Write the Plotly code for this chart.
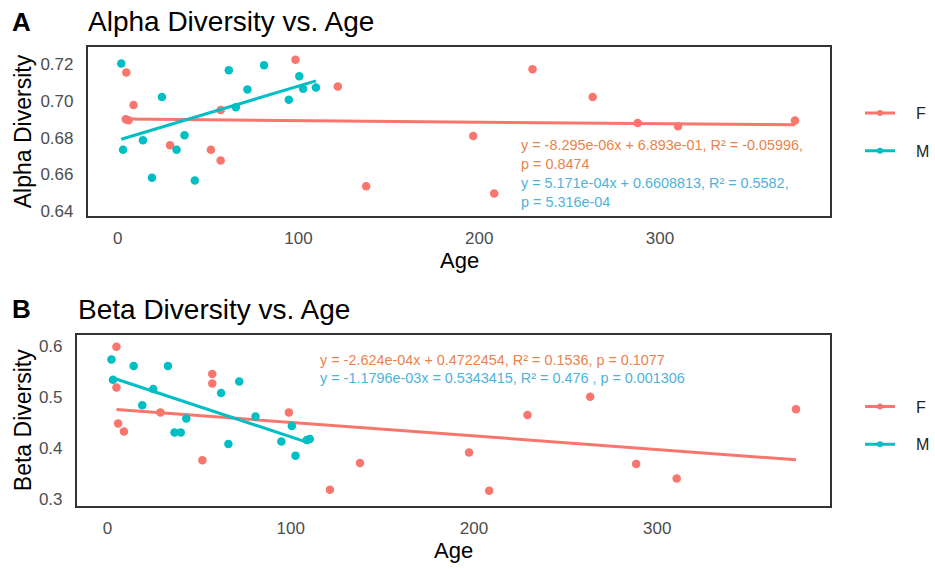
import numpy as np
import plotly.graph_objects as go

# ---------------- data ----------------
alpha_f_age = [4.5, 6.0, 4.8, 8.8, 29.0, 51.6, 57.0, 57.0, 98.4, 121.8, 137.5,
               196.7, 208.3, 229.5, 262.8, 287.7, 310.0, 374.7]
alpha_f_val = [0.6900, 0.6895, 0.7155, 0.6978, 0.6758, 0.6734, 0.6951, 0.6675,
               0.7225, 0.7079, 0.6534, 0.6808, 0.6494, 0.7173, 0.7021, 0.6879,
               0.6862, 0.6893]
alpha_m_age = [2.0, 3.0, 14.0, 19.0, 24.5, 32.6, 37.0, 42.7, 61.5, 65.4, 71.8,
               81.0, 94.7, 100.5, 102.6, 109.7]
alpha_m_val = [0.7205, 0.6734, 0.6785, 0.6580, 0.7021, 0.6734, 0.6812, 0.6566,
               0.7168, 0.6965, 0.7063, 0.7195, 0.7007, 0.7135, 0.7066, 0.7074]

beta_f_age = [4.9, 4.9, 5.8, 9.0, 28.9, 51.8, 57.2, 57.2, 99.0, 121.4, 137.8,
              197.3, 208.3, 229.2, 263.4, 288.5, 310.6, 375.7]
beta_f_val = [0.599, 0.519, 0.448, 0.4325, 0.470, 0.376, 0.5455, 0.5266, 0.470,
              0.318, 0.3707, 0.391, 0.316, 0.4648, 0.5006, 0.3688, 0.340, 0.476]
beta_m_age = [2.2, 3.0, 14.3, 19.0, 25.0, 33.0, 36.6, 40.0, 43.0, 62.0, 66.0,
              71.9, 80.8, 94.9, 100.6, 102.6, 108.7, 110.4]
beta_m_val = [0.574, 0.534, 0.561, 0.484, 0.516, 0.561, 0.4305, 0.4305, 0.458,
              0.508, 0.408, 0.5305, 0.4617, 0.413, 0.4434, 0.385, 0.4155, 0.4175]

x_ticks = [0, 100, 200, 300]
alpha_ticks = [0.64, 0.66, 0.68, 0.70, 0.72]
beta_ticks = [0.3, 0.4, 0.5, 0.6]

alpha_f_text = "y = -8.295e-06x + 6.893e-01, R² = -0.05996,<br>p = 0.8474"
alpha_m_text = "y = 5.171e-04x + 0.6608813, R² = 0.5582,<br>p = 5.316e-04"
beta_f_text = "y = -2.624e-04x + 0.4722454, R² = 0.1536, p = 0.1077"
beta_m_text = "y = -1.1796e-03x = 0.5343415, R² = 0.476 , p = 0.001306"

# ---------------- styling ----------------
W, H = 935, 569
COL_F = "#F8766D"
COL_M = "#00BFC4"
TXT_F = "#E8834E"
TXT_M = "#4DB3DA"
FONT = "Liberation Sans, Arial, sans-serif"
PAD = "\u2002\u2002"  # gap between legend symbol and label

def px(x):
    return x / W

def py(y):
    return 1 - y / H

fig = go.Figure()

def add_group(age, val, color, name, xa, ya, legend):
    fig.add_trace(go.Scatter(x=age, y=val, mode="markers", xaxis=xa, yaxis=ya,
                             marker=dict(color=color, size=8.5), showlegend=False,
                             hoverinfo="x+y"))
    a = np.array(age, dtype=float)
    v = np.array(val, dtype=float)
    slope, inter = np.polyfit(a, v, 1)
    xs = np.array([a.min(), a.max()])
    fig.add_trace(go.Scatter(x=xs, y=slope * xs + inter, mode="lines", xaxis=xa, yaxis=ya,
                             line=dict(color=color, width=3), showlegend=False,
                             hoverinfo="skip"))
    fig.add_trace(go.Scatter(x=[None], y=[None], mode="lines+markers", xaxis=xa, yaxis=ya,
                             name=PAD + name, legend=legend, legendgroup=legend + name,
                             line=dict(color=color, width=3),
                             marker=dict(color=color, size=6)))

add_group(alpha_f_age, alpha_f_val, COL_F, "F", "x", "y", "legend")
add_group(alpha_m_age, alpha_m_val, COL_M, "M", "x", "y", "legend")
add_group(beta_f_age, beta_f_val, COL_F, "F", "x2", "y2", "legend2")
add_group(beta_m_age, beta_m_val, COL_M, "M", "x2", "y2", "legend2")

axis_common = dict(showgrid=False, zeroline=False, showline=True, mirror=True,
                   linecolor="#333333", linewidth=1.5, ticks="",
                   tickfont=dict(family=FONT, size=17, color="#4D4D4D"))

fig.update_layout(
    width=W, height=H,
    margin=dict(l=0, r=0, t=0, b=0),
    paper_bgcolor="white", plot_bgcolor="white",
    font=dict(family=FONT),
    xaxis=dict(domain=[px(88), px(834)], range=[-16.6, 394.3], anchor="y",
               tickvals=x_ticks, ticklabelstandoff=6, **axis_common),
    yaxis=dict(domain=[py(218), py(47)], range=[0.6371, 0.7297], anchor="x",
               tickvals=alpha_ticks, tickformat=".2f", ticklabelstandoff=9, **axis_common),
    xaxis2=dict(domain=[px(77), px(834)], range=[-16.8, 394.5], anchor="y2",
                tickvals=x_ticks, ticklabelstandoff=6, **axis_common),
    yaxis2=dict(domain=[py(510.5), py(338)], range=[0.286, 0.622], anchor="x2",
                tickvals=beta_ticks, tickformat=".1f", ticklabelstandoff=9, **axis_common),
    legend=dict(x=px(864), y=py(97), xanchor="left", yanchor="top",
                font=dict(family=FONT, size=16, color="#222222"),
                tracegroupgap=14, bgcolor="rgba(0,0,0,0)"),
    legend2=dict(x=px(864), y=py(393), xanchor="left", yanchor="top",
                 font=dict(family=FONT, size=16, color="#222222"),
                 tracegroupgap=14, bgcolor="rgba(0,0,0,0)"),
)

def ann(text, x, y, size, color="black", xanchor="left", yanchor="middle",
        bold=False, textangle=0, align="left"):
    fig.add_annotation(text=("<b>%s</b>" % text) if bold else text,
                       x=px(x), y=py(y), xref="paper", yref="paper",
                       xanchor=xanchor, yanchor=yanchor, showarrow=False,
                       textangle=textangle, align=align,
                       font=dict(family=FONT, size=size, color=color))

# panel labels and titles
ann("A", 10, 22, 26, bold=True)
ann("Alpha Diversity vs. Age", 86, 22, 28)
ann("B", 10, 312, 26, bold=True)
ann("Beta Diversity vs. Age", 76, 312, 28)

# axis titles
ann("Alpha Diversity", 23, 132.5, 23, xanchor="center", textangle=-90)
ann("Age", 461, 263, 22, xanchor="center")
ann("Beta Diversity", 23, 424, 23, xanchor="center", textangle=-90)
ann("Age", 455.5, 555, 22, xanchor="center")

# regression equations
ann(alpha_f_text, 521, 156, 14.4, color=TXT_F)
ann(alpha_m_text, 521, 194, 14.4, color=TXT_M)
ann(beta_f_text, 319, 363, 14.4, color=TXT_F)
ann(beta_m_text, 319, 381.5, 14.4, color=TXT_M)

fig.write_html("out.html",
               config={"displayModeBar": False},
               post_script="document.body.style.margin='0px';"
                           "document.body.style.overflow='hidden';")
